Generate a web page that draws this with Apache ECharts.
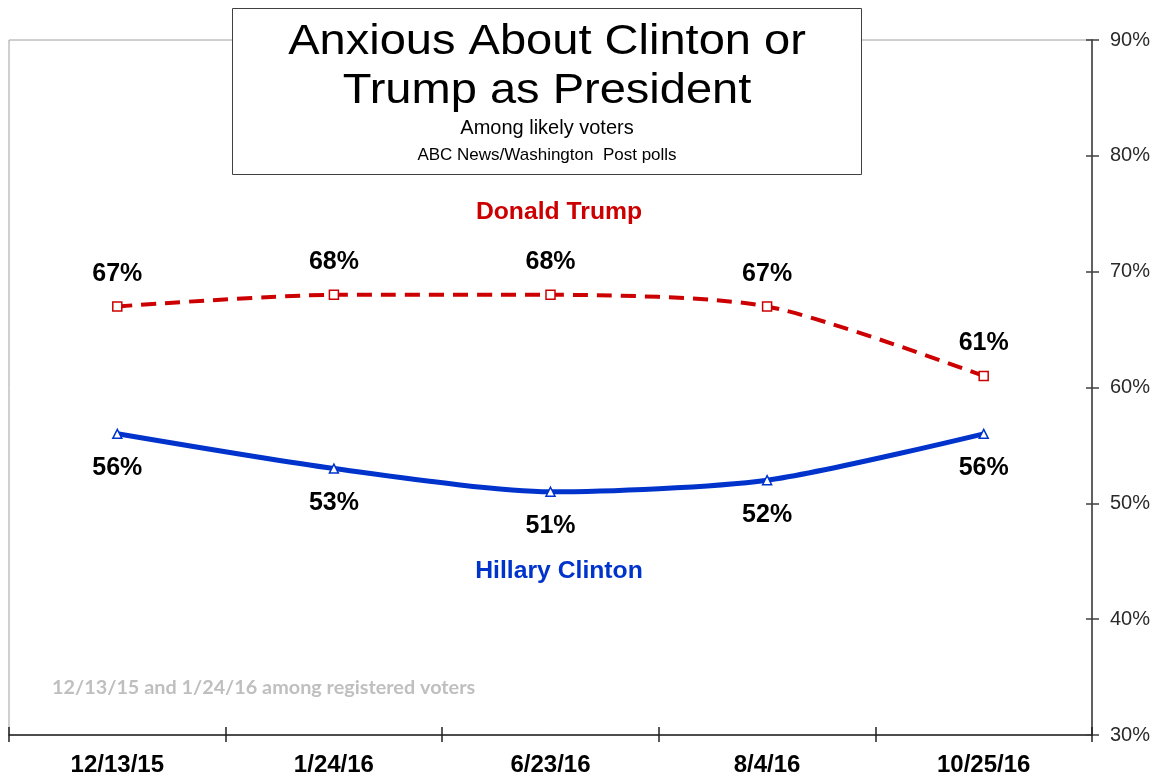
<!DOCTYPE html>
<html>
<head>
<meta charset="utf-8">
<script src="https://cdn.jsdelivr.net/npm/echarts@6/dist/echarts.min.js"></script>
<style>
html,body{margin:0;padding:0;background:#fff;}
#chart{width:1159px;height:779px;}
</style>
</head>
<body>
<div id="chart"></div>
<script>
const categories = ['12/13/15', '1/24/16', '6/23/16', '8/4/16', '10/25/16'];
const trumpValues = [67, 68, 68, 67, 61];
const clintonValues = [56, 53, 51, 52, 56];
const yTicks = [30, 40, 50, 60, 70, 80, 90];

const chart = echarts.init(document.getElementById('chart'));
const grid = {left: 9, right: 67, top: 40, bottom: 44, show: true, borderColor: '#a0a0a0', borderWidth: 1, backgroundColor: 'transparent'};
const yMin = yTicks[0], yMax = yTicks[yTicks.length - 1], yStep = yTicks[1] - yTicks[0];

const labelFont = {fontFamily: 'Liberation Sans, Arial, sans-serif', fontWeight: 'bold', fontSize: 25, color: '#000'};

chart.setOption({
  animation: false,
  backgroundColor: '#fff',
  grid: grid,
  xAxis: [{
    type: 'category', data: categories, position: 'bottom', boundaryGap: true,
    axisLine: {lineStyle: {color: '#222', width: 1.5}},
    axisTick: {show: true, inside: false, length: 7, alignWithLabel: false, lineStyle: {color: '#222', width: 1.5}},
    axisLabel: {margin: 18, fontFamily: 'Liberation Sans, Arial, sans-serif', fontWeight: 'bold', fontSize: 24, color: '#000'},
    splitLine: {show: false}
  }, {
    type: 'category', data: categories, position: 'bottom', boundaryGap: true,
    axisLine: {show: false},
    axisTick: {show: true, inside: true, length: 8, alignWithLabel: false, lineStyle: {color: '#222', width: 1.5}},
    axisLabel: {show: false},
    splitLine: {show: false}
  }],
  yAxis: [{
    type: 'value', position: 'right', min: yMin, max: yMax, interval: yStep,
    axisLine: {show: true, lineStyle: {color: '#606060', width: 2}},
    axisTick: {show: true, inside: false, length: 7, lineStyle: {color: '#404040', width: 1.5}},
    axisLabel: {margin: 18, formatter: '{value}%', fontFamily: 'Liberation Sans, Arial, sans-serif', fontSize: 20, color: '#2a2a2a'},
    splitLine: {show: false}
  }, {
    type: 'value', position: 'right', min: yMin, max: yMax, interval: yStep,
    axisLine: {show: false},
    axisTick: {show: true, inside: true, length: 6, lineStyle: {color: '#404040', width: 1.5}},
    axisLabel: {show: false},
    splitLine: {show: false}
  }],
  series: [{
    name: 'Donald Trump', type: 'line', data: trumpValues, smooth: 0.25,
    symbol: 'rect', symbolSize: 9,
    lineStyle: {color: '#CC0000', width: 4, type: [15, 9]},
    itemStyle: {color: '#fff', borderColor: '#CC0000', borderWidth: 1.5},
    label: Object.assign({show: true, position: 'top', distance: 15, formatter: '{c}%'}, labelFont),
    z: 3
  }, {
    name: 'Hillary Clinton', type: 'line', data: clintonValues, smooth: 0.25,
    symbol: 'triangle', symbolSize: 9,
    lineStyle: {color: '#0033CC', width: 5},
    itemStyle: {color: '#fff', borderColor: '#0033CC', borderWidth: 1.5},
    label: Object.assign({show: true, position: 'bottom', distance: 17, formatter: '{c}%'}, labelFont),
    z: 3
  }],
  graphic: [
    {type: 'rect', z: 100, shape: {x: 232.5, y: 8.5, width: 629, height: 166}, style: {fill: '#fff', stroke: '#404040', lineWidth: 1}},
    {type: 'text', z: 101, x: 547, y: 42, scaleX: 1.12, style: {text: 'Anxious About Clinton or', align: 'center', verticalAlign: 'middle', font: '42px "Liberation Sans", Arial, sans-serif', fill: '#000'}},
    {type: 'text', z: 101, x: 547, y: 91, scaleX: 1.12, style: {text: 'Trump as President', align: 'center', verticalAlign: 'middle', font: '42px "Liberation Sans", Arial, sans-serif', fill: '#000'}},
    {type: 'text', z: 101, x: 547, y: 128, style: {text: 'Among likely voters', align: 'center', verticalAlign: 'middle', font: '20px "Liberation Sans", Arial, sans-serif', fill: '#000'}},
    {type: 'text', z: 101, x: 547, y: 155, style: {text: 'ABC News/Washington  Post polls', align: 'center', verticalAlign: 'middle', font: '17px "Liberation Sans Narrow", "Liberation Sans", Arial, sans-serif', fill: '#000'}},
    {type: 'text', z: 101, x: 559, y: 212, scaleX: 1.03, style: {text: 'Donald Trump', align: 'center', verticalAlign: 'middle', font: 'bold 24px "Liberation Sans", Arial, sans-serif', fill: '#CC0000'}},
    {type: 'text', z: 101, x: 559, y: 571, scaleX: 1.03, style: {text: 'Hillary Clinton', align: 'center', verticalAlign: 'middle', font: 'bold 24px "Liberation Sans", Arial, sans-serif', fill: '#0033CC'}},
    {type: 'text', z: 101, x: 52, y: 688, scaleX: 1.1, style: {text: '12/13/15 and 1/24/16 among registered voters', align: 'left', verticalAlign: 'middle', font: 'bold 18px Lato, "Open Sans", sans-serif', fill: '#BFBFBF'}}
  ]
});
</script>
</body>
</html>
